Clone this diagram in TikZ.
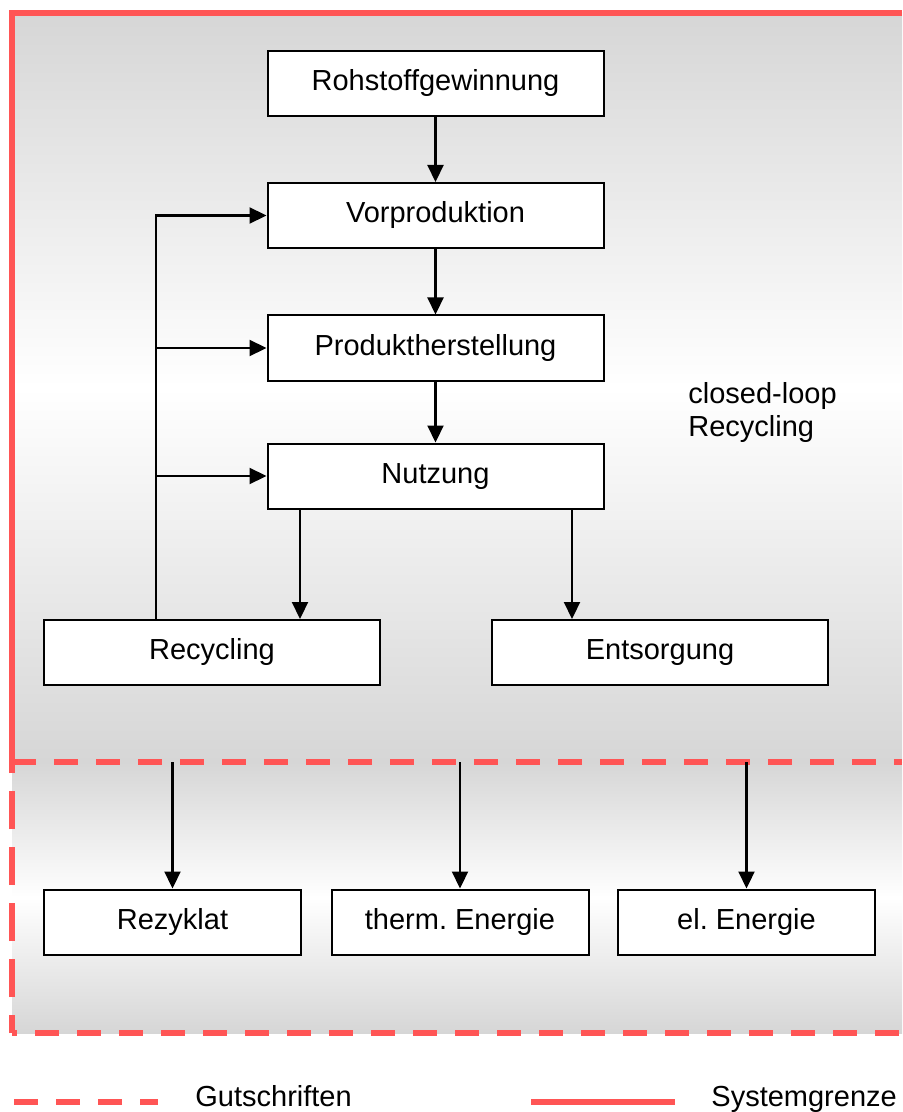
\documentclass[tikz,border=0pt]{standalone}
\usepackage{fontspec}
\setmainfont{Liberation Sans}
\usetikzlibrary{arrows.meta}
\definecolor{grenzrot}{HTML}{FF5555}
\definecolor{hintergrau}{HTML}{D6D6D6}
\frenchspacing
\begin{document}
\begin{tikzpicture}[x=0.5pt,y=-0.5pt,font=\fontsize{14.5}{16.5}\selectfont,
    kasten/.style={draw,fill=white,line width=1pt,minimum width=168pt,minimum height=32.5pt,
      inner sep=0pt,text height=0.72em,text depth=0.01em},
    klein/.style={kasten,minimum width=128.5pt},
    pfeil/.style={-{Triangle[length=8.5pt,width=8pt]},line width=1.1pt},
    grenze/.style={grenzrot,line width=3pt},
    gutschrift/.style={grenze,dash pattern=on 12pt off 9pt}]
    \useasboundingbox (0,0) rectangle (902,1112);
    \shade[top color=hintergrau,bottom color=hintergrau,middle color=white] (12,13) rectangle (902,762);
    \shade[top color=hintergrau,bottom color=hintergrau,middle color=white] (12,762) rectangle (902,1033);
    \draw[grenze] (12,762) -- (12,13) -- (902,13);
    \draw[gutschrift] (12,762) -- (902,762);
    \draw[gutschrift,dash phase=9.5pt] (12,1033) -- (902,1033);
    \draw[grenze,dash pattern=on 19pt off 9pt,dash phase=10pt] (12,1033) -- (12,762);

    \node[kasten] (rohstoff) at (435.5,83.5) {Rohstoffgewinnung};
    \node[kasten] (vorprod) at (435.5,215.5) {Vorproduktion};
    \node[kasten] (herst) at (435.5,348) {Produktherstellung};
    \node[kasten] (nutzung) at (435.5,476) {Nutzung};
    \node[kasten] (recycling) at (212,652.5) {Recycling};
    \node[kasten] (entsorgung) at (660,652.5) {Entsorgung};
    \node[klein] (rezyklat) at (172.5,922) {Rezyklat};
    \node[klein] (therm) at (460,922) {therm. Energie};
    \node[klein] (el) at (746.5,922) {el. Energie};
    \node[anchor=north west,align=left,inner sep=0pt] (closedloop) at (688,382) {closed-loop\\Recycling};

    \draw[pfeil] (rohstoff) -- (vorprod);
    \draw[pfeil] (vorprod) -- (herst);
    \draw[pfeil] (herst) -- (nutzung);
    \coordinate (links) at (156,218);
    \draw[pfeil] (recycling.north -| links) |- (vorprod.west);
    \draw[pfeil] (links |- herst.west) -- (herst.west);
    \draw[pfeil] (links |- nutzung.west) -- (nutzung.west);
    \coordinate (abzweig) at (300,0);
    \coordinate (abfall) at (572,0);
    \draw[pfeil] (nutzung.south -| abzweig) -- (recycling.north -| abzweig);
    \draw[pfeil] (nutzung.south -| abfall) -- (entsorgung.north -| abfall);
    \coordinate (linie) at (0,762);
    \foreach \ziel in {rezyklat,therm,el}
      \draw[pfeil] (\ziel.north |- linie) -- (\ziel.north);

    \draw[gutschrift] (14,1102) -- (158,1102);
    \node[anchor=base west,inner sep=0pt] (gutschriften) at (195,1106) {Gutschriften};
    \draw[grenze] (531,1102) -- (675,1102);
    \node[anchor=base west,inner sep=0pt] (systemgrenze) at (711,1106) {Systemgrenze};
\end{tikzpicture}
\end{document}
